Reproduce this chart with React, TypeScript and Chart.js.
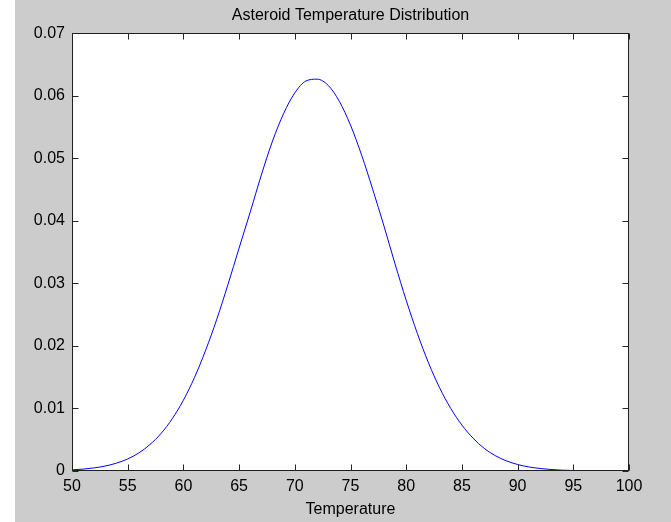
import React, { useEffect, useRef } from "react";
import { Chart, registerables } from "chart.js";

Chart.register(...registerables);

const TITLE = "Asteroid Temperature Distribution";
const X_LABEL = "Temperature";

const temperatures = [
  50, 51, 52, 53, 54, 55, 56, 57, 58, 59,
  60, 61, 62, 63, 64, 65, 66, 67, 68, 69,
  70, 71, 72, 73, 74, 75, 76, 77, 78, 79,
  80, 81, 82, 83, 84, 85, 86, 87, 88, 89,
  90, 91, 92, 93, 94, 95, 96, 97, 98, 99, 100,
];

const density = [
  0.00018, 0.0003, 0.0005, 0.0008, 0.00126, 0.00193, 0.00289, 0.00423, 0.00601, 0.00836,
  0.01132, 0.01497, 0.01932, 0.02428, 0.02981, 0.03565, 0.0414, 0.04735, 0.05275, 0.05717,
  0.06046, 0.06236, 0.06265, 0.06165, 0.0591, 0.0553, 0.0505, 0.045, 0.0392, 0.0331,
  0.0273, 0.0220, 0.0173, 0.0133, 0.0100, 0.00735, 0.00525, 0.00362, 0.00245, 0.00162,
  0.00104, 0.00065, 0.0004, 0.00024, 0.00013, 0.00008, 0.00004, 0.00002, 0.00001, 0.00001, 0.0,
];

const xTicks = [50, 55, 60, 65, 70, 75, 80, 85, 90, 95, 100];
const yTicks = [0, 0.01, 0.02, 0.03, 0.04, 0.05, 0.06, 0.07];
const yTickLabels = ["0", "0.01", "0.02", "0.03", "0.04", "0.05", "0.06", "0.07"];

const FONT = "'Liberation Sans', Arial, sans-serif";

const framePlugin = {
  id: "matlabFrame",
  beforeDraw(chart: any) {
    const { ctx, width, height, chartArea: a } = chart;
    ctx.save();
    ctx.fillStyle = "#ffffff";
    ctx.fillRect(0, 0, width, height);
    ctx.fillStyle = "#cccccc";
    ctx.fillRect(15, 0, width - 15, height);
    ctx.fillStyle = "#ffffff";
    ctx.fillRect(a.left, a.top, a.right - a.left, a.bottom - a.top);
    ctx.restore();
  },
  afterDatasetsDraw(chart: any) {
    const { ctx, chartArea: a } = chart;
    const xs = chart.scales.x;
    const ys = chart.scales.y;
    const L = Math.round(a.left) + 0.5;
    const R = Math.round(a.right) - 0.5;
    const T = Math.round(a.top) + 0.5;
    const B = Math.round(a.bottom) - 0.5;
    const len = 6;
    ctx.save();
    ctx.strokeStyle = "#262626";
    ctx.lineWidth = 1;
    ctx.beginPath();
    xTicks.forEach((v) => {
      const px = Math.round(xs.getPixelForValue(v)) + 0.5;
      ctx.moveTo(px, B);
      ctx.lineTo(px, B - len);
      ctx.moveTo(px, T);
      ctx.lineTo(px, T + len);
    });
    yTicks.forEach((v) => {
      const py = Math.round(ys.getPixelForValue(v)) + 0.5;
      ctx.moveTo(L, py);
      ctx.lineTo(L + len, py);
      ctx.moveTo(R, py);
      ctx.lineTo(R - len, py);
    });
    ctx.stroke();
    ctx.strokeStyle = "#202020";
    ctx.strokeRect(L, T, R - L, B - T);
    ctx.restore();
  },
};

export default function App() {
  const ref = useRef<HTMLCanvasElement | null>(null);

  useEffect(() => {
    if (!ref.current) return;
    const points = temperatures.map((t, i) => ({ x: t, y: density[i] }));
    const chart = new Chart(ref.current, {
      type: "line",
      data: {
        datasets: [
          {
            data: points,
            borderColor: "#0000ff",
            borderWidth: 1,
            pointRadius: 0,
            fill: false,
            cubicInterpolationMode: "monotone",
          },
        ],
      },
      options: {
        animation: false,
        responsive: false,
        devicePixelRatio: 1,
        layout: { padding: { left: 0, right: 42, top: 0, bottom: 0 } },
        plugins: {
          legend: { display: false },
          tooltip: { enabled: false },
          title: {
            display: true,
            text: TITLE,
            fullSize: false,
            color: "#000000",
            font: { family: FONT, size: 16, weight: "normal" },
            padding: { top: 6, bottom: 8 },
          },
        },
        scales: {
          x: {
            type: "linear",
            min: 50,
            max: 100,
            afterBuildTicks: (scale: any) => {
              scale.ticks = xTicks.map((v) => ({ value: v }));
            },
            afterFit: (scale: any) => {
              scale.height = 51;
            },
            grid: { display: false, drawTicks: false },
            border: { display: false },
            ticks: {
              color: "#000000",
              font: { family: FONT, size: 16 },
              padding: 6,
              maxRotation: 0,
              autoSkip: false,
              callback: (v: any) => String(v),
            },
            title: {
              display: true,
              text: X_LABEL,
              color: "#000000",
              font: { family: FONT, size: 16 },
              padding: { top: 0, bottom: 3 },
            },
          },
          y: {
            type: "linear",
            min: 0,
            max: 0.07,
            afterBuildTicks: (scale: any) => {
              scale.ticks = yTicks.map((v) => ({ value: v }));
            },
            afterFit: (scale: any) => {
              scale.width = 72;
            },
            grid: { display: false, drawTicks: false },
            border: { display: false },
            ticks: {
              color: "#000000",
              font: { family: FONT, size: 16 },
              padding: 7,
              autoSkip: false,
              callback: (v: any) => {
                const i = yTicks.findIndex((t) => Math.abs(t - Number(v)) < 1e-9);
                return i >= 0 ? yTickLabels[i] : "";
              },
            },
          },
        },
      },
      plugins: [framePlugin],
    });
    return () => chart.destroy();
  }, []);

  return (
    <div style={{ position: "absolute", left: 0, top: 0, width: 671, height: 522 }}>
      <canvas ref={ref} width={671} height={522} style={{ display: "block", width: 671, height: 522 }} />
    </div>
  );
}
